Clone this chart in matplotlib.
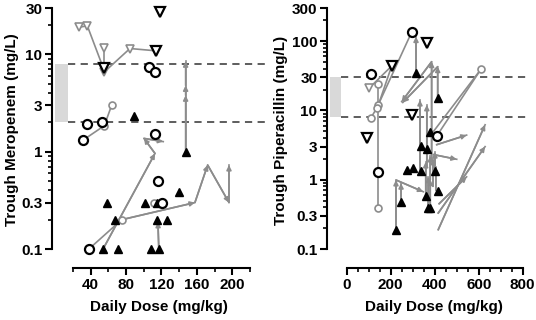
import matplotlib
matplotlib.use("Agg")
import matplotlib.pyplot as plt
from matplotlib.ticker import FixedLocator, NullFormatter

plt.rcParams['font.family'] = ['Liberation Sans', 'DejaVu Sans']
plt.rcParams['font.weight'] = 'bold'

# ---------------- Meropenem (left) ----------------
mero_ticks = [0.1, 0.3, 1, 3, 10, 30]
mero_tick_labels = ["0.1", "0.3", "1", "3", "10", "30"]
mero_xticks = [40, 80, 120, 160, 200]
mero_targets = [2, 8]

mero_bcirc_x = [38, 31.6, 36.2, 53, 112.7, 106, 113, 116.4, 121]
mero_bcirc_y = [0.1, 1.32, 1.93, 2.03, 1.52, 7.5, 6.6, 0.5, 0.3]
mero_gcirc_x = [75, 63.7, 55.4, 112]
mero_gcirc_y = [0.2, 3.0, 1.85, 0.3]
mero_bdown_x = [118, 55.4, 113.4]
mero_bdown_y = [27.5, 7.3, 10.9]
mero_gdown_x = [26.8, 36.2, 55.4, 55.4, 84.4]
mero_gdown_y = [19, 19.7, 11.7, 6.6, 11.5]
mero_btri_x = [54, 71, 108, 117, 67.5, 115.3, 126.6, 58, 101.4, 115.3, 140, 89, 147.3]
mero_btri_y = [0.1, 0.1, 0.1, 0.1, 0.2, 0.2, 0.2, 0.3, 0.3, 0.3, 0.39, 2.33, 1.0]
# gray connecting lines (plain) and arrowed paths: (x list, y list)
mero_lines = [
    ([26.8, 36.2, 55.4], [19, 19.7, 6.8]),
    ([55.4, 55.4], [11.7, 7.3]),
    ([55.4, 84.4, 113.4], [6.6, 11.5, 10.9]),
    ([31.6, 55.4, 63.7], [1.32, 1.85, 3.0]),
    ([38, 75], [0.1, 0.2]),
]
mero_arrows = [
    ([54, 112.7, 100.2, 122], [0.1, 0.96, 1.37, 1.27]),
    ([75, 157.8, 172.2, 196.3, 196.3], [0.2, 0.3, 0.73, 0.3, 0.73]),
    ([147.3, 147.3, 147.3, 147.3], [1.0, 3.8, 4.8, 8.5]),
    ([117, 116], [0.1, 0.19]),
]

# ---------------- Piperacillin (right) ----------------
pip_ticks = [0.1, 0.3, 1, 3, 10, 30, 100, 300]
pip_tick_labels = ["0.1", "0.3", "1", "3", "10", "30", "100", "300"]
pip_xticks = [0, 200, 400, 600, 800]
pip_targets = [8, 30]

pip_bcirc_x = [295, 110, 412, 144]
pip_bcirc_y = [134, 33, 4.2, 1.28]
pip_gcirc_x = [144, 144, 136, 109, 610, 144]
pip_gcirc_y = [24, 12, 10.7, 7.7, 39.2, 0.39]
pip_bdown_x = [364, 204.5, 298, 91]
pip_bdown_y = [93, 43.7, 8.6, 3.96]
pip_gdown_x = [101]
pip_gdown_y = [20.8]
pip_btri_x = [315, 413.6, 379, 336, 364, 273, 300, 336, 401, 247, 224, 359, 416, 371, 380]
pip_btri_y = [34.3, 15.2, 4.9, 3.06, 2.75, 1.38, 1.46, 1.35, 1.35, 0.48, 0.19, 0.58, 0.69, 0.39, 0.39]
pip_lines = [
    ([101, 204.5], [20.8, 43.7]),
    ([109, 136, 295], [7.7, 10.7, 134]),
    ([144, 144, 144, 144], [24, 12, 1.28, 0.39]),
    ([144, 204.5], [12, 43.7]),
    ([395, 610], [5.0, 39.2]),
    ([416, 610], [4.6, 39.2]),
]
pip_arrows = [
    ([315, 315], [34.3, 116]),
    ([386, 386, 250], [1.9, 50.4, 13.4]),
    ([413.6, 413.6, 255], [15.2, 42.7, 13.0]),
    ([333, 333], [1.4, 14.1]),
    ([364, 364], [1.6, 12]),
    ([224, 224, 348], [0.19, 0.99, 0.67]),
    ([247, 247], [0.48, 0.89]),
    ([416, 629], [0.19, 6.2]),
    ([416, 629], [0.33, 3.0]),
    ([420, 545], [0.45, 1.1]),
    ([409, 545], [3.2, 4.4]),
    ([395, 500], [2.3, 1.97]),
    ([371, 371], [0.39, 1.1]),
    ([380, 380, 380], [0.39, 1.0, 2.2]),
    ([359, 359], [0.58, 1.8]),
    ([401, 401], [1.35, 2.5]),
    ([392, 392], [0.8, 2.0]),
    ([405, 405], [0.7, 1.5]),
]

GRAY = '#8c8c8c'
fig = plt.figure(figsize=(5.36, 3.2), dpi=100)
W, H = 536.0, 320.0


def make_ax(left_px, right_px, xlim, ylim):
    ax = fig.add_axes([left_px / W, 1 - 268 / H, (right_px - left_px) / W, 260 / H])
    ax.set_xlim(*xlim)
    ax.set_yscale('log')
    ax.set_ylim(*ylim)
    for s in ['top', 'right']:
        ax.spines[s].set_visible(False)
    for s in ['left', 'bottom']:
        ax.spines[s].set_linewidth(1.5)
    ax.tick_params(which='major', length=5, width=1.5, labelsize=11, pad=2)
    ax.tick_params(which='minor', length=3, width=1.2)
    ax.patch.set_alpha(0)
    return ax


def draw(ax, lines, arrows, bcx, bcy, gcx, gcy, bdx, bdy, gdx, gdy, btx, bty):
    for xs, ys in lines:
        ax.plot(xs, ys, color=GRAY, lw=1.2, zorder=2, clip_on=False)
    for xs, ys in arrows:
        ax.plot(xs, ys, color=GRAY, lw=1.2, zorder=2, clip_on=False)
        for i in range(1, len(xs)):
            ax.annotate('', xy=(xs[i], ys[i]), xytext=(xs[i - 1], ys[i - 1]),
                        arrowprops=dict(arrowstyle='-|>', color=GRAY, lw=1.2,
                                        mutation_scale=7, shrinkA=0, shrinkB=0),
                        zorder=2, annotation_clip=False)
    ax.plot(gcx, gcy, 'o', ms=5, mfc='white', mec=GRAY, mew=1.2, ls='none', zorder=3, clip_on=False)
    ax.plot(gdx, gdy, 'v', ms=5.5, mfc='white', mec=GRAY, mew=1.2, ls='none', zorder=3, clip_on=False)
    ax.plot(btx, bty, '^', ms=6, color='black', ls='none', zorder=4, clip_on=False)
    ax.plot(bcx, bcy, 'o', ms=6.5, mfc='white', mec='black', mew=1.6, ls='none', zorder=5, clip_on=False)
    ax.plot(bdx, bdy, 'v', ms=7, mfc='white', mec='black', mew=1.6, ls='none', zorder=5, clip_on=False)


# Left panel
ax1 = make_ax(52, 265, (-3.7, 237), (0.0638, 30))
ax1.spines['left'].set_bounds(0.1, 30)
ax1.spines['bottom'].set_bounds(20, 220)
ax1.yaxis.set_major_locator(FixedLocator(mero_ticks))
ax1.set_yticklabels(mero_tick_labels)
ax1.yaxis.set_minor_locator(FixedLocator([0.2, 0.4, 0.5, 0.6, 0.7, 0.8, 0.9, 2, 4, 5, 6, 7, 8, 9, 20]))
ax1.yaxis.set_minor_formatter(NullFormatter())
ax1.set_xticks(mero_xticks)
ax1.set_xticks([20, 60, 100, 140, 180, 220], minor=True)
ax1.fill_between([-0.3, 14], mero_targets[0], mero_targets[1], color='#d9d9d9', lw=0, zorder=1)
for t in mero_targets:
    ax1.plot([14.4, 237], [t, t], color='#505050', lw=1.3, ls=(0, (4, 3)), zorder=1)
draw(ax1, mero_lines, mero_arrows, mero_bcirc_x, mero_bcirc_y, mero_gcirc_x, mero_gcirc_y,
     mero_bdown_x, mero_bdown_y, mero_gdown_x, mero_gdown_y, mero_btri_x, mero_btri_y)

# Right panel
ax2 = make_ax(327, 530, (-89.5, 833), (0.0532, 300))
ax2.spines['left'].set_bounds(0.1, 300)
ax2.spines['bottom'].set_bounds(0, 800)
ax2.yaxis.set_major_locator(FixedLocator(pip_ticks))
ax2.set_yticklabels(pip_tick_labels)
ax2.yaxis.set_minor_locator(FixedLocator([0.2, 0.4, 0.5, 0.6, 0.7, 0.8, 0.9, 2, 4, 5, 6, 7, 8, 9,
                                          20, 40, 50, 60, 70, 80, 90, 200]))
ax2.yaxis.set_minor_formatter(NullFormatter())
ax2.set_xticks(pip_xticks)
ax2.set_xticks([50, 100, 150, 250, 300, 350, 450, 500, 550, 650, 700, 750], minor=True)
ax2.fill_between([-76, -27], pip_targets[0], pip_targets[1], color='#d9d9d9', lw=0, zorder=1)
for t in pip_targets:
    ax2.plot([-27, 833], [t, t], color='#505050', lw=1.3, ls=(0, (4, 3)), zorder=1)
draw(ax2, pip_lines, pip_arrows, pip_bcirc_x, pip_bcirc_y, pip_gcirc_x, pip_gcirc_y,
     pip_bdown_x, pip_bdown_y, pip_gdown_x, pip_gdown_y, pip_btri_x, pip_btri_y)

fig.text(12 / W, 1 - 130 / H, 'Trough Meropenem (mg/L)', rotation=90, ha='center', va='center',
         fontsize=11, fontweight='bold')
fig.text(281 / W, 1 - 130 / H, 'Trough Piperacillin (mg/L)', rotation=90, ha='center', va='center',
         fontsize=11, fontweight='bold')
fig.text(159 / W, 1 - 307 / H, 'Daily Dose (mg/kg)', ha='center', va='center', fontsize=11, fontweight='bold')
fig.text(434 / W, 1 - 307 / H, 'Daily Dose (mg/kg)', ha='center', va='center', fontsize=11, fontweight='bold')

fig.savefig('out.png', dpi=100)
